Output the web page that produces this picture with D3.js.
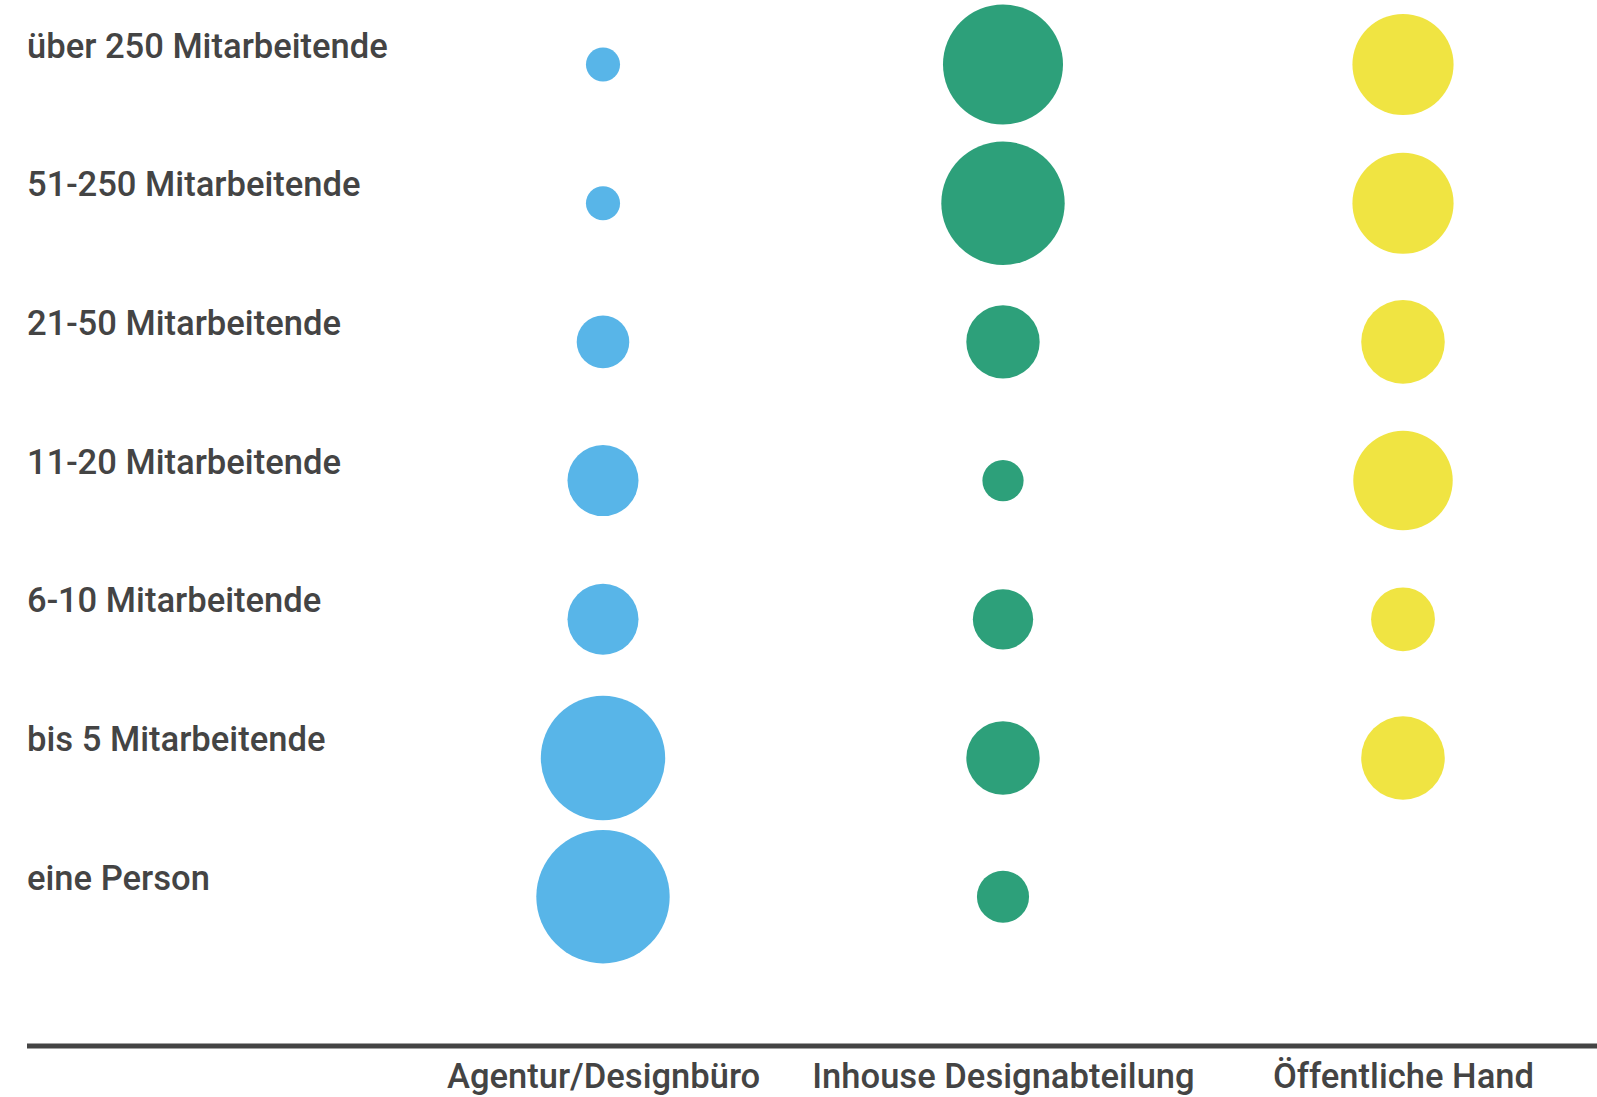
<!DOCTYPE html>
<html>
<head>
<meta charset="utf-8">
<script src="https://cdn.jsdelivr.net/npm/d3@7"></script>
<style>
  body { margin: 0; background: #fff; }
  text { font-family: "Roboto Medium", Roboto, "Noto Sans", sans-serif; font-weight: 500; fill: #444; }
</style>
</head>
<body>
<div id="chart"></div>
<script>
// Unternehmensgröße (Zeilen) x Arbeitsumfeld (Spalten), Anteile in %
var groessen = ["über 250 Mitarbeitende", "51-250 Mitarbeitende", "21-50 Mitarbeitende",
  "11-20 Mitarbeitende", "6-10 Mitarbeitende", "bis 5 Mitarbeitende", "eine Person"];
var bereiche = ["Agentur/Designbüro", "Inhouse Designabteilung", "Öffentliche Hand"];
var agentur  = [2.4, 2.4, 5.7, 10.4, 10.4, 31.9, 36.7];
var inhouse  = [29.7, 31.4, 11.1, 3.5, 7.5, 11.1, 5.6];
var oeffentl = [21.1, 21.1, 14.4, 20.4, 8.4, 14.4, 0];
var farben = ["#58b5e8", "#2da07a", "#f0e442"];

var width = 1597, height = 1097;

var werte = [agentur, inhouse, oeffentl];
var data = [];
werte.forEach(function(reihe, c) {
  reihe.forEach(function(v, r) {
    data.push({bereich: bereiche[c], groesse: groessen[r], wert: v, farbe: farben[c]});
  });
});

var x = d3.scalePoint().domain(bereiche).range([603, 1403]);
var y = d3.scalePoint().domain(groessen).range([64.5, 896.7]);
var r = d3.scaleSqrt().domain([0, d3.max(data, function(d) { return d.wert; })]).range([0, 66.7]);

var svg = d3.select("#chart").append("svg")
  .attr("width", width)
  .attr("height", height);

// Zeilenbeschriftung
var rowLabels = svg.selectAll(".rowlabel")
  .data(groessen)
  .enter().append("text")
  .attr("class", "rowlabel")
  .attr("x", 27)
  .attr("y", function(d) { return y(d) - 7; })
  .style("font-size", "34px")
  .text(function(d) { return d; });

// Schriftgröße an Referenzbreite anpassen
var w0 = rowLabels.node().getComputedTextLength();
var fs = 34 * 361 / w0;
rowLabels.style("font-size", fs + "px");

svg.selectAll("circle")
  .data(data.filter(function(d) { return d.wert > 0; }))
  .enter().append("circle")
  .attr("cx", function(d) { return x(d.bereich); })
  .attr("cy", function(d) { return y(d.groesse); })
  .attr("r", function(d) { return r(d.wert); })
  .attr("fill", function(d) { return d.farbe; });

// Achse unten
svg.append("line")
  .attr("x1", 27).attr("x2", width)
  .attr("y1", 1046).attr("y2", 1046)
  .attr("stroke", "#444")
  .attr("stroke-width", 5);

var xAxis = d3.axisBottom(x).tickSize(0).tickPadding(0);
var ax = svg.append("g")
  .attr("transform", "translate(0,1088)")
  .call(xAxis);
ax.select(".domain").remove();
ax.selectAll("text")
  .attr("dy", 0)
  .attr("y", 0)
  .style("font-size", fs + "px")
  .style("font-family", "'Roboto Medium', Roboto, 'Noto Sans', sans-serif")
  .style("font-weight", 500)
  .attr("fill", "#444");
</script>
</body>
</html>
